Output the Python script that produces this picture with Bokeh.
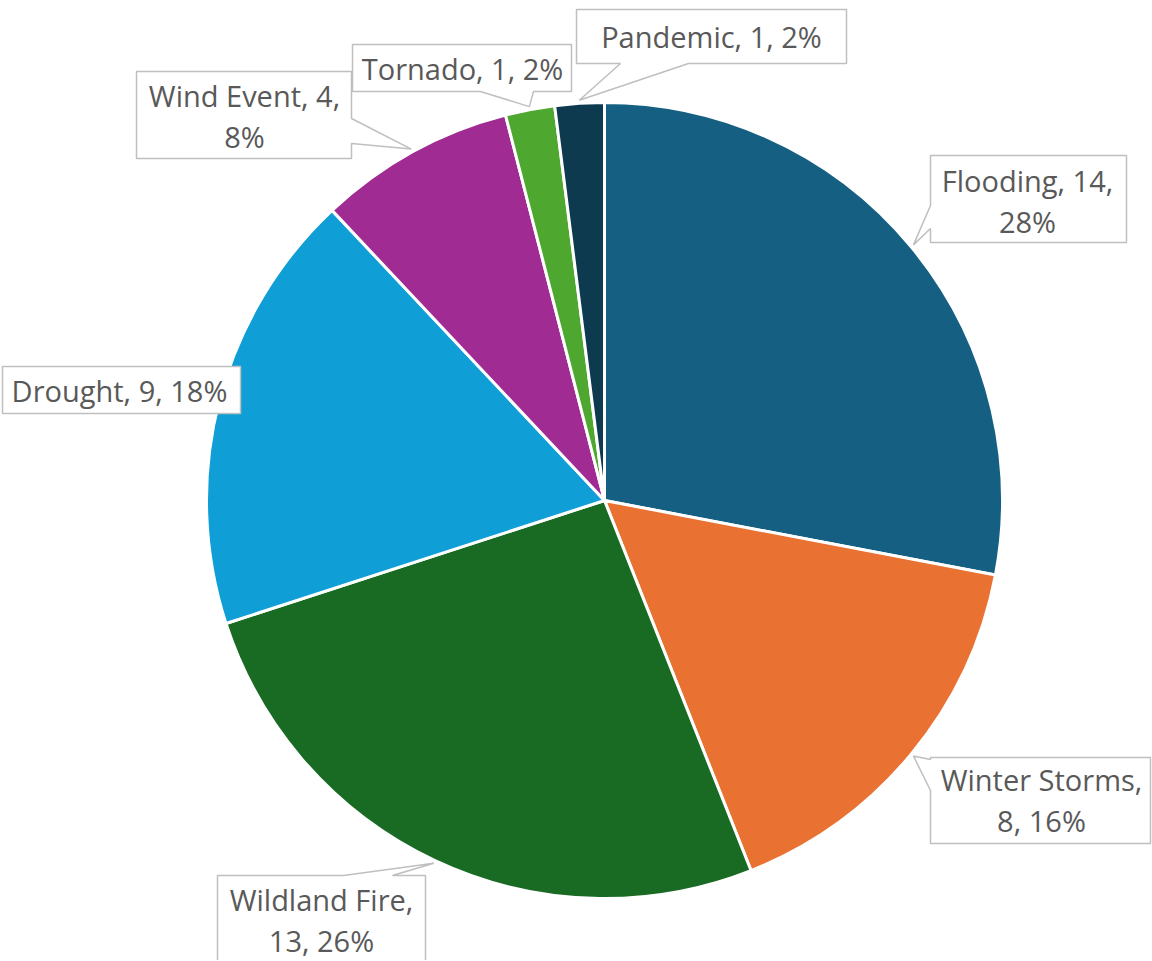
import numpy as np
from bokeh.plotting import figure
from bokeh.models import Range1d, ColumnDataSource
from bokeh.embed import file_html
from bokeh.resources import INLINE
from bokeh.core.properties import value

# ---------------- data ----------------
categories = ["Flooding", "Winter Storms", "Wildland Fire", "Drought",
              "Wind Event", "Tornado", "Pandemic"]
counts = [14, 8, 13, 9, 4, 1, 1]
colors = ["#156082", "#E97132", "#196B24", "#0F9ED5",
          "#A02B93", "#4EA72E", "#0E3A50"]

# ---------------- layout (screen pixels) ----------------
W, H = 1152, 960
CX, CY, R = 604, 500, 398          # pie centre / radius in screen px
# label boxes: x0, y0, x1, y1
box_x0 = [930, 930, 217, 2, 136, 352, 576]
box_y0 = [155, 757, 875, 366, 71, 44, 9]
box_x1 = [1126, 1150, 425, 240, 351, 571, 846]
box_y1 = [242, 843, 968, 413, 158, 91, 63]
ptr_edge = ["left", "left", "top", None, "right", "bottom", "bottom"]
ptr_a = [205, 759, 343, 0, 118, 480, 620]
ptr_b = [228, 790, 392, 0, 143, 533, 688]
first_line_parts = [2, 1, 1, 3, 2, 3, 3]
text_cx = [1027, 1041, 321, 119, 244, 462, 711]
text_y1 = [180, 779, 899, 390, 95, 68, 36]
LINE_GAP = 41


def Y(sy):
    return 961 - sy


p = figure(width=W, height=H, output_backend="svg", toolbar_location=None,
           x_range=Range1d(0, W), y_range=Range1d(961 - H, 961),
           x_axis_type=None, y_axis_type=None, min_border=0)
p.outline_line_color = None
p.grid.visible = False
p.background_fill_color = "white"

total = sum(counts)
cum = np.cumsum([0] + counts)
start_clock = np.pi / 2 - 2 * np.pi * cum[:-1] / total
end_clock = np.pi / 2 - 2 * np.pi * cum[1:] / total

src = ColumnDataSource(dict(start=end_clock, end=start_clock, color=colors,
                            cat=categories))
p.wedge(x=CX, y=Y(CY), radius=R, start_angle="start", end_angle="end",
        direction="anticlock", fill_color="color", line_color="white",
        line_width=3, source=src)

# ---------------- callouts ----------------
xs, ys = [], []
lx, ly, lt = [], [], []
for i, cat in enumerate(categories):
    pct = round(100 * counts[i] / total)
    mid = (start_clock[i] + end_clock[i]) / 2
    tipx = CX + (R + 3) * np.cos(mid)
    tipy = CY - (R + 3) * np.sin(mid)
    x0, y0, x1, y1 = box_x0[i], box_y0[i], box_x1[i], box_y1[i]
    a, b = ptr_a[i], ptr_b[i]
    e = ptr_edge[i]
    if e == "top":
        pts = [(x0, y0), (a, y0), (tipx, tipy), (b, y0), (x1, y0), (x1, y1), (x0, y1)]
    elif e == "right":
        pts = [(x0, y0), (x1, y0), (x1, a), (tipx, tipy), (x1, b), (x1, y1), (x0, y1)]
    elif e == "bottom":
        pts = [(x0, y0), (x1, y0), (x1, y1), (b, y1), (tipx, tipy), (a, y1), (x0, y1)]
    elif e == "left":
        pts = [(x0, y0), (x1, y0), (x1, y1), (x0, y1), (x0, b), (tipx, tipy), (x0, a)]
    else:
        pts = [(x0, y0), (x1, y0), (x1, y1), (x0, y1)]
    xs.append([pt[0] for pt in pts])
    ys.append([Y(pt[1]) for pt in pts])

    parts = [cat, str(counts[i]), f"{pct}%"]
    k = first_line_parts[i]
    lines = [", ".join(parts[:k]) + ("," if k < 3 else "")]
    if k < 3:
        lines.append(", ".join(parts[k:]))
    for j, ln in enumerate(lines):
        lx.append(text_cx[i])
        ly.append(Y(text_y1[i] + j * LINE_GAP))
        lt.append(ln)

p.patches(xs=xs, ys=ys, fill_color="white", line_color="#BFBFBF", line_width=1.5)
p.text(x=lx, y=ly, text=lt, text_align="center", text_baseline="middle",
       text_font=value("Open Sans"), text_font_size="29px", text_color="#595959")

open("out.html", "w").write(file_html(p, INLINE))
